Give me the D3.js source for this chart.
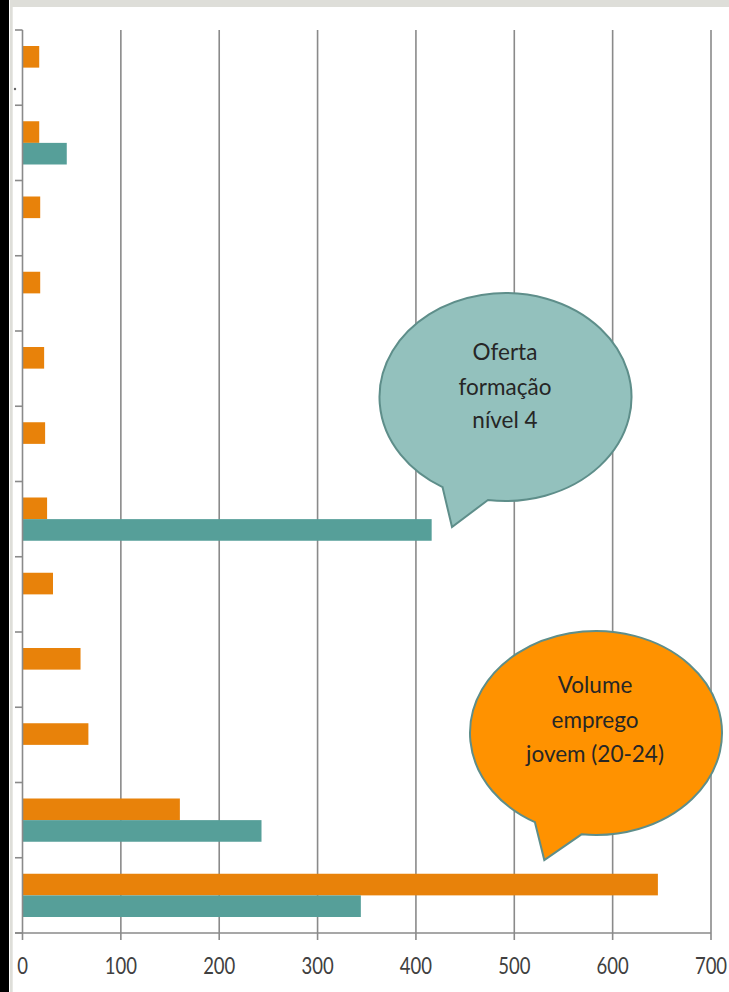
<!DOCTYPE html>
<html>
<head>
<meta charset="utf-8">
<script src="https://cdn.jsdelivr.net/npm/d3@7/dist/d3.min.js"></script>
<style>
  html, body { margin: 0; padding: 0; background: #ffffff; }
  svg { display: block; }
  text { font-family: Lato, "Open Sans", sans-serif; }
</style>
</head>
<body>
<svg id="chart" width="729" height="992"></svg>
<script>
// ---- data (top to bottom) ----
const categories = ["c1","c2","c3","c4","c5","c6","c7","c8","c9","c10","c11","c12"];
const empregoJovem = [17, 17, 18, 18, 22, 23, 25, 31, 59, 67, 160, 646];   // orange
const ofertaNivel4 = [0, 45, 0, 0, 0, 0, 416, 0, 0, 0, 243, 344];           // teal
const xTicks = [0, 100, 200, 300, 400, 500, 600, 700];
const seriesKeys = ["emprego", "oferta"];
const bubbleTeal = ["Oferta", "formação", "nível 4"];
const bubbleOrange = ["Volume", "emprego", "jovem (20-24)"];

const ORANGE = "#E8820A", TEAL = "#569F99", GRID = "#8a8a8a";

const svg = d3.select("#chart");

// frame decorations
svg.append("rect").attr("x", 0).attr("y", 0).attr("width", 729).attr("height", 992).attr("fill", "#fff");
svg.append("rect").attr("x", 10).attr("y", 0).attr("width", 719).attr("height", 7).attr("fill", "#deded9");
svg.append("rect").attr("x", 10).attr("y", 0).attr("width", 2.7).attr("height", 992).attr("fill", "#deded9");
svg.append("rect").attr("x", 0).attr("y", 0).attr("width", 9).attr("height", 992).attr("fill", "#000");

// scales
const x = d3.scaleLinear().domain([0, 700]).range([22.5, 711]);
const y = d3.scaleBand().domain(categories).range([30, 933]).padding(0);
const inner = d3.scaleBand().domain(seriesKeys).range([0, y.bandwidth()]).paddingInner(0).paddingOuter(0.74);

// gridlines
svg.append("g").selectAll("line").data(xTicks.filter(d => d > 0)).join("line")
  .attr("x1", d => x(d)).attr("x2", d => x(d))
  .attr("y1", 30).attr("y2", 933)
  .attr("stroke", GRID).attr("stroke-width", 1.6);

// bars
const rows = categories.map((c, i) => ({ c, emprego: empregoJovem[i], oferta: ofertaNivel4[i] }));
const g = svg.append("g").selectAll("g").data(rows).join("g")
  .attr("transform", d => `translate(0,${y(d.c)})`);
g.selectAll("rect").data(d => seriesKeys.map(k => ({ k, v: d[k] }))).join("rect")
  .attr("x", x(0))
  .attr("y", d => inner(d.k))
  .attr("width", d => x(d.v) - x(0))
  .attr("height", inner.bandwidth())
  .attr("fill", d => d.k === "emprego" ? ORANGE : TEAL);

// y axis (no labels)
const yAxis = svg.append("g");
yAxis.append("line").attr("x1", x(0)).attr("x2", x(0)).attr("y1", 30).attr("y2", 933)
  .attr("stroke", GRID).attr("stroke-width", 1.6);
const yTickPos = categories.map(c => y(c)).concat([y.range()[1]]);
yAxis.selectAll("line.t").data(yTickPos).join("line").attr("class", "t")
  .attr("x1", 15).attr("x2", x(0)).attr("y1", d => d).attr("y2", d => d)
  .attr("stroke", GRID).attr("stroke-width", 1.6);
svg.append("circle").attr("cx", 15).attr("cy", 89).attr("r", 1.2).attr("fill", "#666");

// x axis
const xAxis = svg.append("g");
xAxis.append("line").attr("x1", 15).attr("x2", x(700)).attr("y1", 933).attr("y2", 933)
  .attr("stroke", GRID).attr("stroke-width", 1.6);
xAxis.selectAll("line.t").data(xTicks).join("line").attr("class", "t")
  .attr("x1", d => x(d)).attr("x2", d => x(d)).attr("y1", 933).attr("y2", 940)
  .attr("stroke", GRID).attr("stroke-width", 1.6);
xAxis.selectAll("text").data(xTicks).join("text")
  .attr("transform", d => `translate(${x(d)},974) scale(1,1.22)`)
  .attr("text-anchor", "middle")
  .attr("font-size", 18.5)
  .attr("fill", "#404040")
  .text(d => d);

// speech bubbles
function bubble(cx, cy, rx, ry, tLeftDeg, tRightDeg, tip, fill, stroke) {
  const a1 = tRightDeg * Math.PI / 180, a2 = tLeftDeg * Math.PI / 180;
  const p1 = [cx + rx * Math.cos(a1), cy + ry * Math.sin(a1)];
  const p2 = [cx + rx * Math.cos(a2), cy + ry * Math.sin(a2)];
  const path = `M${p1[0]},${p1[1]} A${rx},${ry} 0 1 0 ${p2[0]},${p2[1]} L${tip[0]},${tip[1]} Z`;
  svg.append("path").attr("d", path).attr("fill", fill).attr("stroke", stroke).attr("stroke-width", 2);
}
bubble(505.5, 397, 126, 104, 120, 98, [452, 527], "#93C1BD", "#5E8E8A");
bubble(596, 733, 126, 102, 119, 96.6, [544.3, 860], "#FF9200", "#5E8E8A");

function bubbleText(lines, cx, baselines) {
  svg.append("g").selectAll("text").data(lines).join("text")
    .attr("x", cx).attr("y", (d, i) => baselines[i])
    .attr("text-anchor", "middle")
    .attr("font-size", 22.5)
    .attr("fill", "#262626")
    .text(d => d);
}
bubbleText(bubbleTeal, 505, [360, 395, 428]);
bubbleText(bubbleOrange, 595, [693, 728, 762]);
</script>
</body>
</html>
